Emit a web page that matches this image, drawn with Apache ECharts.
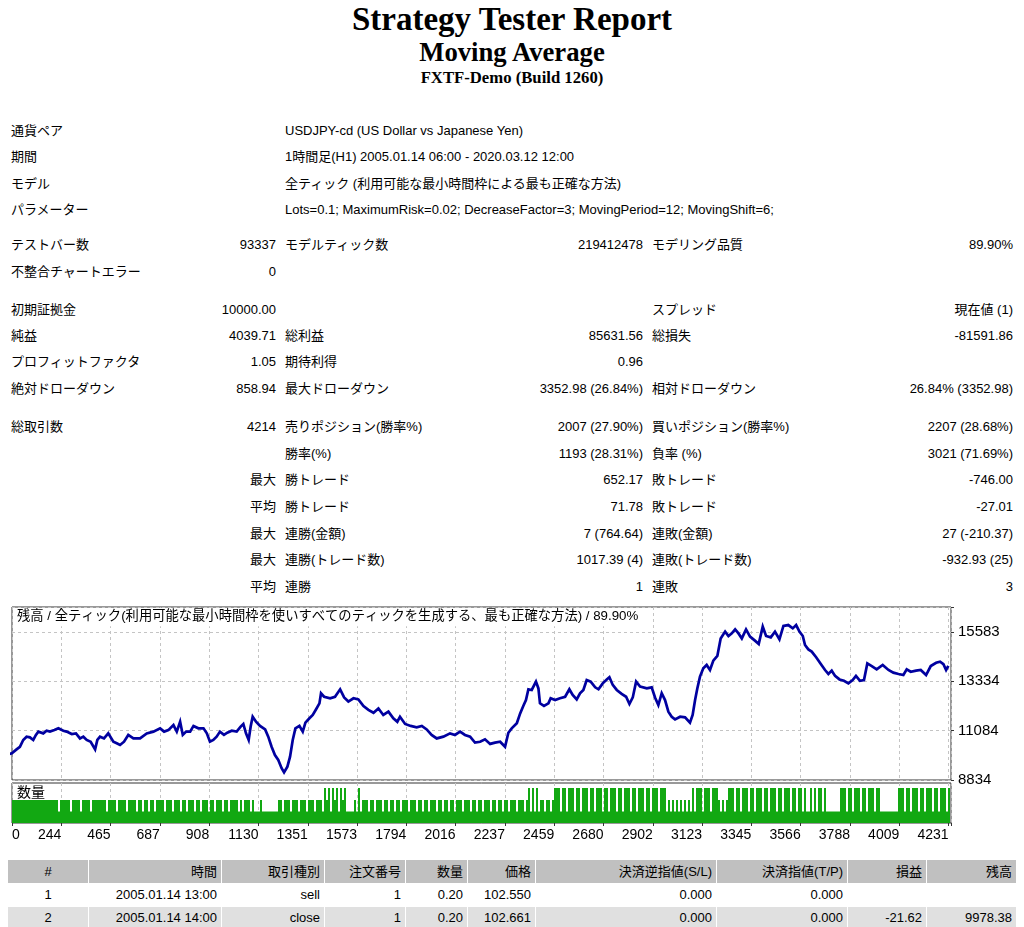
<!DOCTYPE html>
<html><head><meta charset="utf-8">
<script src="https://cdn.jsdelivr.net/npm/echarts@6/dist/echarts.min.js"></script>
<style>
html,body{margin:0;padding:0;background:#fff;}
body{width:1024px;height:927px;position:relative;overflow:hidden;font-family:"Liberation Sans","Noto Sans CJK JP",sans-serif;font-size:13px;color:#000;}
.t{position:absolute;white-space:nowrap;line-height:18px;height:18px;}
.h{position:absolute;left:0;width:1024px;text-align:center;font-family:"Liberation Serif","Noto Serif CJK JP",serif;font-weight:bold;white-space:nowrap;}
.cell{position:absolute;white-space:nowrap;box-sizing:border-box;padding:0 4px;text-align:right;}
#chart{position:absolute;left:0;top:600px;width:1024px;height:250px;}
</style>
</head><body>
<div class="h" style="top:3px;font-size:33px;line-height:33px;">Strategy Tester Report</div>
<div class="h" style="top:39px;font-size:26.7px;line-height:27px;">Moving Average</div>
<div class="h" style="top:69px;font-size:16.7px;line-height:17px;">FXTF-Demo (Build 1260)</div>
<div id="stats"></div>
<div id="chart"></div>
<div id="trades"></div>
<script>
// ---------------- report text ----------------
const statRows = [
  [131, ['通貨ペア', null, 'USDJPY-cd (US Dollar vs Japanese Yen)']],
  [157, ['期間', null, '1時間足(H1) 2005.01.14 06:00 - 2020.03.12 12:00']],
  [184, ['モデル', null, '全ティック (利用可能な最小時間枠による最も正確な方法)']],
  [210, ['パラメーター', null, 'Lots=0.1; MaximumRisk=0.02; DecreaseFactor=3; MovingPeriod=12; MovingShift=6;']],
  [245, ['テストバー数', '93337', 'モデルティック数', '219412478', 'モデリング品質', '89.90%']],
  [272, ['不整合チャートエラー', '0']],
  [310, ['初期証拠金', '10000.00', null, null, 'スプレッド', '現在値 (1)']],
  [336, ['純益', '4039.71', '総利益', '85631.56', '総損失', '-81591.86']],
  [362, ['プロフィットファクタ', '1.05', '期待利得', '0.96']],
  [389, ['絶対ドローダウン', '858.94', '最大ドローダウン', '3352.98 (26.84%)', '相対ドローダウン', '26.84% (3352.98)']],
  [427, ['総取引数', '4214', '売りポジション(勝率%)', '2007 (27.90%)', '買いポジション(勝率%)', '2207 (28.68%)']],
  [454, [null, null, '勝率(%)', '1193 (28.31%)', '負率 (%)', '3021 (71.69%)']],
  [480, [null, '最大', '勝トレード', '652.17', '敗トレード', '-746.00']],
  [507, [null, '平均', '勝トレード', '71.78', '敗トレード', '-27.01']],
  [534, [null, '最大', '連勝(金額)', '7 (764.64)', '連敗(金額)', '27 (-210.37)']],
  [560, [null, '最大', '連勝(トレード数)', '1017.39 (4)', '連敗(トレード数)', '-932.93 (25)']],
  [587, [null, '平均', '連勝', '1', '連敗', '3']]
];
const statCols = [['left', 11], ['right', 1024 - 276], ['left', 285], ['right', 1024 - 643], ['left', 652], ['right', 1024 - 1013]];
const statsEl = document.getElementById('stats');
statRows.forEach(([y, cells]) => {
  cells.forEach((txt, i) => {
    if (txt == null) return;
    const d = document.createElement('div');
    d.className = 't';
    d.style.top = (y - 9) + 'px';
    d.style[statCols[i][0]] = statCols[i][1] + 'px';
    d.textContent = txt;
    statsEl.appendChild(d);
  });
});

const tradeHeader = ['#', '時間', '取引種別', '注文番号', '数量', '価格', '決済逆指値(S/L)', '決済指値(T/P)', '損益', '残高'];
const tradeRows = [
  ['1', '2005.01.14 13:00', 'sell', '1', '0.20', '102.550', '0.000', '0.000', '', ''],
  ['2', '2005.01.14 14:00', 'close', '1', '0.20', '102.661', '0.000', '0.000', '-21.62', '9978.38']
];
const tradeCols = [[8, 88], [89, 221], [222, 324], [325, 405], [406, 467], [468, 535], [536, 716], [717, 847], [848, 926], [927, 1016]];
const tradeRowGeom = [[860, 23, '#c0c0c0'], [884, 22, '#ffffff'], [907, 22, '#e0e0e0']];
const tradesEl = document.getElementById('trades');
[tradeHeader].concat(tradeRows).forEach((row, r) => {
  const [top, h, bg] = tradeRowGeom[r];
  row.forEach((txt, c) => {
    const d = document.createElement('div');
    d.className = 'cell';
    d.style.left = tradeCols[c][0] + 'px';
    d.style.width = (tradeCols[c][1] - tradeCols[c][0]) + 'px';
    d.style.top = top + 'px';
    d.style.height = h + 'px';
    d.style.lineHeight = h + 'px';
    d.style.background = bg;
    if (c === 0) d.style.textAlign = 'center';
    d.textContent = txt;
    tradesEl.appendChild(d);
  });
});

// ---------------- chart data ----------------
const chartTitle = '残高 / 全ティック(利用可能な最小時間枠を使いすべてのティックを生成する、最も正確な方法) / 89.90%';
const volumeTitle = '数量';
const xTickLabels = ['0','244','465','687','908','1130','1351','1573','1794','2016','2237','2459','2680','2902','3123','3345','3566','3788','4009','4231'];
const yTickLabels = ['8834','11084','13334','15583'];

// balance after trade number [trade, balance]
const balance = [
[0,10000],[22,10050],[43,10230],[58,10350],[73,10660],[88,10810],[103,10780],[118,10660],[130,10890],[141,11040],
[163,10960],[178,11080],[193,11040],[213,11110],[231,11190],[253,11080],[268,11040],[291,10930],[310,10960],[328,10730],
[343,10810],[358,10660],[376,10580],[396,10230],[406,10660],[418,10810],[436,10730],[455,10960],[478,10580],[493,10510],
[508,10430],[526,10580],[545,10890],[568,10730],[598,10730],[628,10960],[658,11040],[688,11190],[706,11040],[725,11110],
[748,11340],[763,11040],[778,11490],[790,10890],[805,11040],[823,11040],[838,11300],[860,11190],[883,11190],[898,10960],
[912,10580],[927,10660],[942,10810],[957,11040],[975,10890],[990,10990],[1010,11080],[1032,11040],[1050,11270],[1062,11390],
[1074,10960],[1086,10660],[1095,11270],[1104,11720],[1119,11490],[1137,11300],[1160,11140],[1174,10810],[1189,10350],[1204,9970],
[1219,9750],[1234,9370],[1245,9180],[1260,9440],[1272,9900],[1284,10660],[1296,11190],[1314,11300],[1329,11040],[1341,11450],
[1359,11650],[1374,11800],[1389,12060],[1404,12330],[1411,12790],[1425,12630],[1452,12560],[1474,12630],[1497,12970],[1515,12600],
[1534,12410],[1557,12560],[1579,12510],[1602,12210],[1624,12030],[1647,11900],[1669,12100],[1691,11800],[1714,11950],[1736,11650],
[1754,11490],[1766,11720],[1789,11390],[1814,11300],[1841,11240],[1864,11300],[1886,11140],[1908,10890],[1931,10730],[1961,10810],
[1991,10960],[2013,10890],[2036,11040],[2058,10890],[2081,10810],[2103,10540],[2126,10580],[2148,10690],[2171,10480],[2193,10540],
[2216,10580],[2238,10350],[2253,10990],[2268,11190],[2291,11420],[2306,11870],[2320,12210],[2332,12480],[2343,12970],[2358,12940],
[2377,13320],[2388,13010],[2395,12330],[2413,12210],[2433,12330],[2443,12560],[2463,12480],[2485,12560],[2508,12630],[2527,12970],
[2542,12710],[2560,12510],[2575,12790],[2590,12940],[2605,13390],[2623,13320],[2643,13060],[2658,12970],[2677,13240],[2695,13420],
[2707,13520],[2722,13170],[2740,12940],[2762,12760],[2782,12630],[2797,12300],[2812,12600],[2827,13320],[2845,13090],[2875,13010],
[2897,13060],[2912,12600],[2927,12250],[2942,12790],[2957,12480],[2972,11950],[2987,11720],[3002,11600],[3025,11720],[3047,11690],
[3069,11450],[3081,11800],[3092,12480],[3102,13010],[3114,13550],[3129,13930],[3144,14080],[3159,13850],[3174,14280],[3192,14490],
[3207,15290],[3227,15600],[3242,15400],[3257,15520],[3272,15700],[3287,15520],[3302,15290],[3321,15700],[3339,15370],[3361,15190],
[3378,15040],[3396,15830],[3411,15400],[3432,15340],[3451,15600],[3471,15250],[3489,15860],[3511,15900],[3531,15750],[3546,15900],
[3561,15600],[3576,15400],[3586,14990],[3601,14790],[3616,14690],[3636,14430],[3657,14120],[3676,13850],[3691,13670],[3706,13820],
[3721,13580],[3741,13420],[3761,13360],[3781,13240],[3800,13390],[3815,13580],[3833,13360],[3851,13390],[3866,14150],[3886,14030],
[3908,13880],[3935,14080],[3961,13850],[3983,13730],[4006,13670],[4028,13620],[4043,13880],[4061,13770],[4085,13820],[4106,13850],
[4130,13620],[4151,14030],[4175,14180],[4193,14230],[4208,14120],[4220,13850],[4230,14040]
];

// trade volume (lots): max level per group of trades, 0 = 0.1, 1 = 0.2, 2 = 0.3
const volumeLots = [0.1, 0.2, 0.3];
const volumeStart = 29.24;   // first trade group
const volumeStep = 8.9872;   // trades per group
const volumeLevels =
  '1111111111111111111' +
  '1111011111011110111101111' +
  '111011110111101111011011011011' +
  '110111011101101110110111011011101101111010111' +
  '01000100' + '000000' +
  '11011101110111011101110' +
  '21202120212' + '0000' + '10201' +
  '1101101110110110110111011101101101110110110110111011101101101110110110110111011101' +
  '202020' + '1101101' +
  '22202202220220222022022202202220220222022022202202220222' +
  '010' + '101010101' + '020' + '22202220222' + '10101' +
  '222022022202202220220222022022202202' +
  '202002020' + '22020' + '000000' +
  '22202202220220222022' +
  '000000000' +
  '22202202220220222022022202';

// ---------------- chart ----------------
const FONT = '"Liberation Sans","Noto Sans CJK JP",sans-serif';
const GREEN = '#12a812';
const volumeBars = [];
for (let i = 0; i < volumeLevels.length; i++) {
  const lv = +volumeLevels[i];
  if (lv > 0) volumeBars.push([volumeStart + i * volumeStep, volumeLots[lv]]);
}
const lastTrade = balance[balance.length - 1][0];
const volumeBase = [[0, volumeLots[0]], [lastTrade, volumeLots[0]]];

const dashed = { show: true, lineStyle: { color: '#c4c4c4', type: [3, 3], width: 1 } };
const xCommon = { type: 'value', min: 22.5, max: 4242, interval: 221.5, splitLine: dashed, axisLine: { show: false } };

const chart = echarts.init(document.getElementById('chart'));
chart.setOption({
  animation: false,
  backgroundColor: '#fff',
  title: [
    { text: chartTitle, left: 13, top: 8, padding: [2, 4, 3, 4], backgroundColor: '#fff',
      textStyle: { fontFamily: FONT, fontSize: 13.3, fontWeight: 'normal', color: '#000' } },
    { text: volumeTitle, left: 14, top: 186, padding: [0, 3, 0, 3],
      textStyle: { fontFamily: FONT, fontSize: 14, fontWeight: 'normal', color: '#000' } }
  ],
  grid: [
    { left: 12, top: 7, width: 939, height: 173, show: true, borderColor: '#333', borderWidth: 1, z: 0 },
    { left: 12, top: 183, width: 939, height: 40, show: true, borderColor: '#333', borderWidth: 1, z: 0 }
  ],
  xAxis: [
    Object.assign({}, xCommon, { gridIndex: 0, axisLabel: { show: false }, axisTick: { show: false } }),
    Object.assign({}, xCommon, { gridIndex: 1,
      axisTick: { show: true, length: 3, lineStyle: { color: '#333' } },
      axisLabel: { show: true, margin: 5, align: 'right', alignMinLabel: 'left', fontFamily: FONT, fontSize: 14, color: '#000',
        formatter: (v, i) => (xTickLabels[i] !== undefined ? xTickLabels[i] : '') } })
  ],
  yAxis: [
    { type: 'value', gridIndex: 0, position: 'right', min: 8834, max: 16723, interval: 2249.67,
      splitLine: dashed, axisLine: { show: false },
      axisTick: { show: true, length: 3, lineStyle: { color: '#333' } },
      axisLabel: { show: true, margin: 7, fontFamily: FONT, fontSize: 15, color: '#000',
        formatter: (v, i) => (yTickLabels[i] !== undefined ? yTickLabels[i] : '') } },
    { type: 'value', gridIndex: 1, min: 0, max: 0.345, splitLine: { show: false },
      axisLine: { show: false }, axisTick: { show: false }, axisLabel: { show: false } }
  ],
  series: [
    { type: 'line', xAxisIndex: 1, yAxisIndex: 1, data: volumeBase, showSymbol: false, silent: true,
      lineStyle: { width: 0 }, areaStyle: { color: GREEN, opacity: 1 }, z: 2 },
    { type: 'custom', xAxisIndex: 1, yAxisIndex: 1, data: volumeBars, silent: true, clip: true, z: 2,
      renderItem: (params, api) => {
        const top = api.coord([api.value(0), api.value(1)]);
        const base = api.coord([api.value(0), 0]);
        const w = api.size([volumeStep, 0])[0];
        return { type: 'rect',
                 shape: { x: Math.round(top[0] - w / 2), y: Math.round(top[1]), width: Math.round(w), height: Math.round(base[1]) - Math.round(top[1]) },
                 style: { fill: GREEN } };
      } },
    { type: 'line', xAxisIndex: 0, yAxisIndex: 0, data: balance, showSymbol: false, silent: true,
      lineStyle: { color: '#0000a0', width: 2.7, join: 'miter' }, z: 3 }
  ]
});
</script>
</body></html>
